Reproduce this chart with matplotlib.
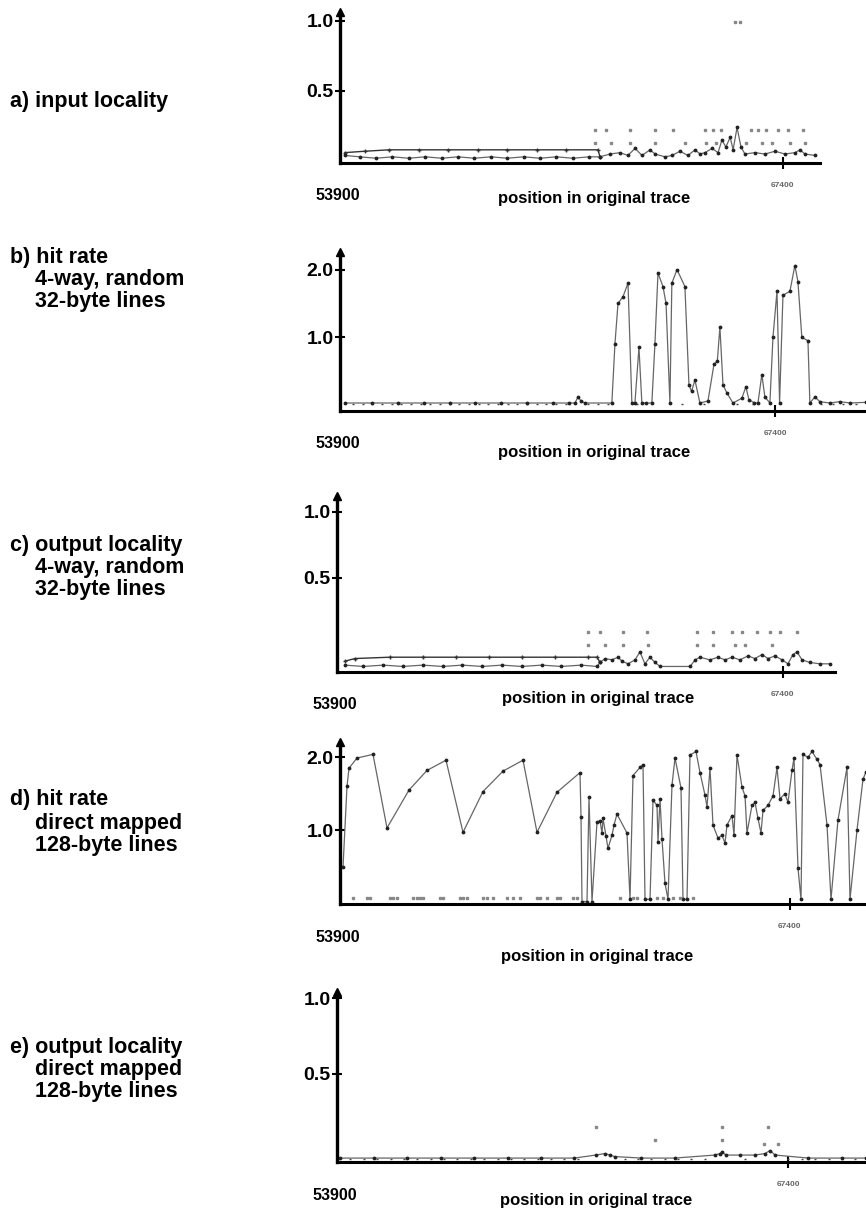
import matplotlib
matplotlib.use('Agg')
import matplotlib.pyplot as plt

plt.rcParams.update({
    'font.family': ['Liberation Sans', 'DejaVu Sans'],
    'font.weight': 'bold',
})

W, H = 866, 1211

# ---------- data (trace position, value) ----------
# a) input locality
a_x = [54050, 54500, 55000, 55500, 56000, 56500, 57000, 57500, 58000, 58500, 59000,
       59500, 60000, 60500, 61000, 61500, 61830, 62135, 62440, 62680, 62900, 63110,
       63355, 63510, 63810, 64030, 64270, 64510, 64730, 64880, 65030, 65250, 65430,
       65550, 65670, 65800, 65890, 66010, 66130, 66250, 66560, 66860, 67170, 67470,
       67780, 67930, 68080, 68390]
a_y = [0.04, 0.03, 0.02, 0.03, 0.02, 0.03, 0.02, 0.03, 0.02, 0.03, 0.02,
       0.03, 0.02, 0.03, 0.02, 0.03, 0.03, 0.05, 0.06, 0.04, 0.09, 0.04,
       0.08, 0.05, 0.03, 0.04, 0.07, 0.04, 0.08, 0.05, 0.06, 0.09, 0.06,
       0.15, 0.10, 0.17, 0.08, 0.24, 0.10, 0.05, 0.06, 0.05, 0.07, 0.05,
       0.06, 0.08, 0.05, 0.04]
a_env_x = [54050, 54660, 55400, 56300, 57200, 58100, 59000, 59900, 60800, 61770, 61830]
a_env_y = [0.06, 0.07, 0.08, 0.08, 0.08, 0.08, 0.08, 0.08, 0.08, 0.08, 0.03]
a_dots_x = [61680, 62020, 62750, 63510, 64060, 65030, 65280, 65520, 66440, 66650, 66900,
            67260, 67570, 68030,
            61680, 62170, 62750, 63510, 64420, 65060, 65370, 66290, 66770, 67080, 67630,
            68090, 65950, 66100]
a_dots_y = [0.22] * 14 + [0.13] * 12 + [0.99, 0.99]

# b) hit rate, 4-way, random, 32-byte lines
b_x = [54055, 54900, 55700, 56500, 57300, 58100, 58900, 59700, 60500, 61000, 61185,
       61280, 61370, 61495, 62330, 62425, 62520, 62675, 62830, 62950, 63045, 63170,
       63260, 63385, 63570, 63665, 63760, 63915, 64010, 64130, 64190, 64350, 64595,
       64720, 64800, 64905, 65060, 65310, 65495, 65600, 65680, 65775, 65895, 66085,
       66360, 66485, 66580, 66750, 66860, 66980, 67075, 67230, 67325, 67450, 67530,
       67635, 67850, 68005, 68100, 68220, 68410, 68470, 68625, 68780, 69090, 69400,
       69710, 70210]
b_y = [0.03, 0.03, 0.03, 0.03, 0.03, 0.03, 0.03, 0.03, 0.03, 0.03, 0.03,
       0.12, 0.06, 0.03, 0.03, 0.90, 1.50, 1.60, 1.80, 0.03, 0.03, 0.85,
       0.03, 0.03, 0.03, 0.90, 1.95, 1.75, 1.50, 0.03, 1.80, 2.00, 1.75,
       0.30, 0.20, 0.37, 0.03, 0.06, 0.60, 0.65, 1.15, 0.30, 0.18, 0.03,
       0.10, 0.27, 0.08, 0.03, 0.03, 0.45, 0.12, 0.03, 1.00, 1.68, 0.03,
       1.62, 1.68, 2.06, 1.82, 1.00, 0.95, 0.03, 0.12, 0.05, 0.03, 0.05,
       0.03, 0.04]
b_floor_x = [54300, 54600, 54900, 55200, 55500, 55800, 56100, 56400, 56700, 57000,
             57300, 57600, 57900, 58200, 58500, 58800, 59100, 59400, 59700, 60000,
             60300, 60600, 60900, 61600, 61900, 62200, 63100, 64500, 65200, 66200,
             66700, 68800, 69200, 69500, 69900]
b_floor_y = [0.02] * 35

# c) output locality, 4-way, random, 32-byte lines
c_x = [54140, 54700, 55300, 55900, 56500, 57100, 57700, 58300, 58900, 59500, 60100,
       60700, 61300, 61780, 61870, 62020, 62230, 62415, 62535, 62720, 62930, 63080,
       63230, 63385, 63535, 63690, 64600, 64750, 64900, 65200, 65445, 65655, 65870,
       66110, 66355, 66565, 66780, 66960, 67170, 67385, 67565, 67715, 67840, 67990,
       68230, 68535, 68840]
c_y = [-0.16, -0.17, -0.16, -0.17, -0.16, -0.17, -0.16, -0.17, -0.16, -0.17, -0.16,
       -0.17, -0.16, -0.17, -0.14, -0.11, -0.12, -0.10, -0.13, -0.15, -0.12, -0.06,
       -0.15, -0.10, -0.14, -0.17, -0.17, -0.12, -0.10, -0.12, -0.10, -0.12, -0.10,
       -0.12, -0.09, -0.11, -0.08, -0.11, -0.09, -0.12, -0.15, -0.08, -0.06, -0.12,
       -0.14, -0.15, -0.15]
c_env_x = [54140, 54445, 55505, 56500, 57500, 58500, 59500, 60500, 61500, 61780, 61870]
c_env_y = [-0.13, -0.11, -0.10, -0.10, -0.10, -0.10, -0.10, -0.10, -0.10, -0.10, -0.14]
c_dots_x = [61505, 61870, 62565, 63290, 64810, 65290, 65870, 66170, 66625, 67020, 67320, 67840,
            61505, 62020, 62565, 63320, 64810, 65290, 65960, 66260, 67080]
c_dots_y = [0.09] * 12 + [-0.01] * 9

# d) hit rate, direct mapped, 128-byte lines
d_x = [53990, 54110, 54170, 54410, 54890, 55310, 55970, 56510, 57080, 57590, 58190,
       58790, 59390, 59810, 60410, 61100, 61130, 61160, 61310, 61370, 61460, 61610,
       61700, 61760, 61790, 61880, 61940, 62060, 62120, 62210, 62510, 62600, 62690,
       62900, 62990, 63050, 63200, 63290, 63410, 63440, 63500, 63560, 63650, 63740,
       63860, 63950, 64130, 64190, 64310, 64400, 64580, 64700, 64850, 64910, 65000,
       65090, 65240, 65360, 65450, 65510, 65660, 65720, 65810, 65960, 66050, 66110,
       66260, 66350, 66440, 66530, 66590, 66740, 66890, 67010, 67100, 67250, 67340,
       67460, 67520, 67640, 67730, 67790, 67940, 68060, 68210, 68300, 68510, 68630,
       68840, 69110, 69200, 69410, 69590, 69680]
d_y = [0.49, 1.60, 1.85, 1.99, 2.04, 1.03, 1.55, 1.82, 1.96, 0.97, 1.53,
       1.81, 1.96, 0.97, 1.52, 1.79, 1.18, 0.02, 0.02, 1.45, 0.02, 1.11,
       1.13, 0.96, 1.16, 0.92, 0.75, 0.93, 1.07, 1.22, 0.96, 0.05, 1.75,
       1.86, 1.90, 0.05, 0.05, 1.41, 1.34, 0.84, 1.43, 0.88, 0.27, 0.05,
       1.62, 1.99, 1.58, 0.05, 0.05, 2.03, 2.08, 1.79, 1.48, 1.32, 1.85,
       1.07, 0.89, 0.93, 0.82, 1.07, 1.20, 0.93, 2.03, 1.59, 1.47, 0.96,
       1.34, 1.38, 1.16, 0.96, 1.27, 1.34, 1.47, 1.86, 1.43, 1.50, 1.38,
       1.82, 1.99, 0.48, 0.05, 2.04, 2.00, 2.08, 1.97, 1.90, 1.07, 0.05,
       1.14, 1.86, 0.05, 1.00, 1.70, 1.80]
d_floor_x = [54300, 54700, 54800, 55400, 55500, 55600, 56100, 56200, 56300, 56400,
             56900, 57000, 57500, 57600, 57700, 58200, 58300, 58500, 58900, 59100,
             59300, 59800, 59900, 60100, 60400, 60500, 60900, 61000, 62300, 62700,
             62800, 63400, 63600, 63900, 64100, 64500]
d_floor_y = [0.07] * 36

# e) output locality, direct mapped, 128-byte lines
e_x = [53990, 55000, 56000, 57000, 58000, 59000, 60000, 61000, 61640, 61910, 62060,
       62210, 63000, 64000, 65200, 65350, 65410, 65530, 65950, 66400, 66700, 66850,
       67000, 68000, 69000, 69720]
e_y = [-0.06, -0.06, -0.06, -0.06, -0.06, -0.06, -0.06, -0.06, -0.04, -0.03, -0.04,
       -0.05, -0.06, -0.06, -0.04, -0.03, -0.02, -0.04, -0.04, -0.04, -0.03, -0.01,
       -0.04, -0.06, -0.06, -0.06]
e_floor_x = [54300, 54700, 55100, 55500, 55900, 56300, 56700, 57100, 57500, 57900,
             58300, 58700, 59100, 59500, 59900, 60300, 60700, 61100, 62500, 62900,
             63300, 63700, 64100, 64500, 64900, 66100, 67400, 67800, 68200, 68600,
             69000, 69400]
e_floor_y = [-0.065] * 32
e_dots_x = [61640, 63410, 65410, 65410, 66790, 66670, 67090]
e_dots_y = [0.145, 0.06, 0.145, 0.06, 0.145, 0.03, 0.03]

# ---------- figure ----------
fig = plt.figure(figsize=(W / 100, H / 100), dpi=100)


def px_axes(left, right, base, top):
    return fig.add_axes([left / W, 1 - base / H, (right - left) / W, (base - top) / H])


def style(ax, xmax, ylim, yticks, ylabels):
    ax.set_xlim(53900, xmax)
    ax.set_ylim(*ylim)
    for s in ('top', 'right'):
        ax.spines[s].set_visible(False)
    ax.spines['left'].set_linewidth(2.4)
    ax.spines['bottom'].set_linewidth(2.2)
    ax.set_yticks(yticks)
    ax.set_yticklabels(ylabels, fontsize=14, fontweight='bold')
    ax.tick_params(axis='y', direction='inout', length=7, width=1.5, pad=1)
    ax.set_xticks([67400])
    ax.set_xticklabels(['67400'], fontsize=6, color='#666666')
    ax.tick_params(axis='x', direction='inout', length=9, width=1.5, pad=9)
    ax.plot([0], [1], marker='^', color='black', ms=6, transform=ax.transAxes,
            clip_on=False)
    ax.annotate('53900', xy=(0, 0), xycoords='axes fraction', xytext=(-2, -33),
                textcoords='offset pixels', ha='center', va='center',
                fontsize=11.5, fontweight='bold')


def trace(ax, x, y):
    ax.plot(x, y, color='#666666', lw=0.9, marker='.', ms=3.5, mfc='#222222',
            mec='#222222', clip_on=False)


def dots(ax, x, y, marker='s', color='#888888'):
    ax.plot(x, y, ls='none', marker=marker, ms=2, color=color)


# panel a
ax = px_axes(340, 820, 163, 12)
style(ax, 68540, (-0.014, 1.063), [0.5, 1.0], ['0.5', '1.0'])
ax.plot(a_env_x, a_env_y, color='#333333', lw=1.0, marker='+', ms=3)
trace(ax, a_x, a_y)
dots(ax, a_dots_x, a_dots_y)

# panel b
ax = px_axes(340, 866, 411, 252)
style(ax, 70210, (-0.088, 2.26), [1.0, 2.0], ['1.0', '2.0'])
dots(ax, b_floor_x, b_floor_y, marker='_', color='#444444')
trace(ax, b_x, b_y)

# panel c
ax = px_axes(337, 835, 672, 496)
style(ax, 68990, (-0.212, 1.12), [0.5, 1.0], ['0.5', '1.0'])
ax.plot(c_env_x, c_env_y, color='#333333', lw=1.0, marker='+', ms=3)
trace(ax, c_x, c_y)
dots(ax, c_dots_x, c_dots_y)

# panel d
ax = px_axes(340, 866, 904, 742)
style(ax, 69680, (-0.014, 2.21), [1.0, 2.0], ['1.0', '2.0'])
trace(ax, d_x, d_y)
dots(ax, d_floor_x, d_floor_y)

# panel e
ax = px_axes(337, 866, 1162, 992)
style(ax, 69720, (-0.086, 1.04), [0.5, 1.0], ['0.5', '1.0'])
dots(ax, e_floor_x, e_floor_y, marker='_', color='#444444')
trace(ax, e_x, e_y)
dots(ax, e_dots_x, e_dots_y)

# x labels
for xc, yc in [(594, 199), (594, 453), (598, 699), (597, 956), (596, 1201)]:
    fig.text(xc / W, 1 - yc / H, 'position in original trace', ha='center',
             va='center', fontsize=12, fontweight='bold')

# panel titles
labels = [
    (10, 102, 'a) input locality'),
    (10, 257, 'b) hit rate'), (35, 280, '4-way, random'), (35, 302, '32-byte lines'),
    (10, 545, 'c) output locality'), (35, 568, '4-way, random'), (35, 590, '32-byte lines'),
    (10, 800, 'd) hit rate'), (35, 823, 'direct mapped'), (35, 845, '128-byte lines'),
    (10, 1047, 'e) output locality'), (35, 1070, 'direct mapped'), (35, 1092, '128-byte lines'),
]
for xp, yp, t in labels:
    fig.text(xp / W, 1 - yp / H, t, ha='left', va='center', fontsize=15.5,
             fontweight='bold')

fig.savefig('out.png', dpi=100, facecolor='white')
